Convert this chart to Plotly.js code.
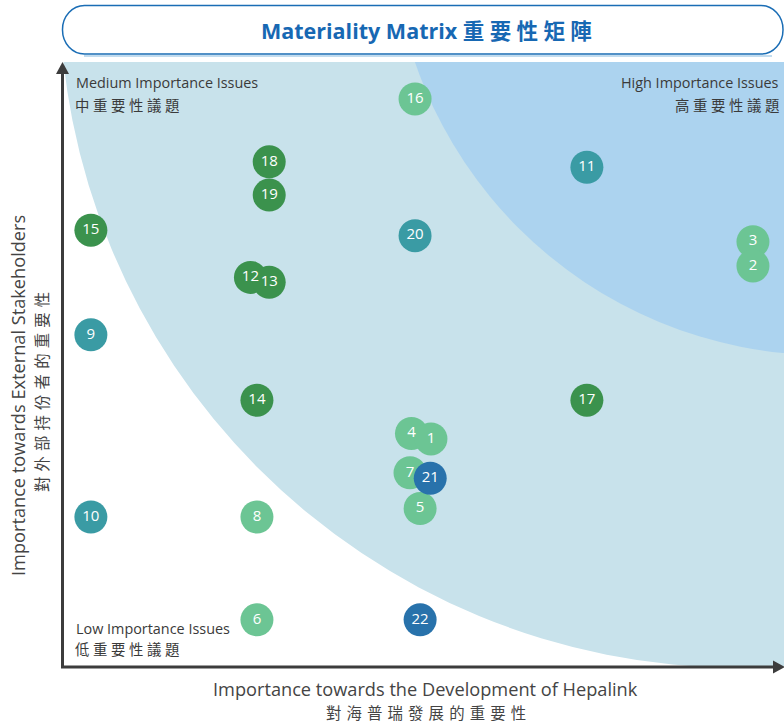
<!DOCTYPE html>
<html><head><meta charset="utf-8">
<script src="https://cdn.plot.ly/plotly-3.0.1.min.js"></script>
<style>html,body{margin:0;padding:0;background:#fff}#chart{width:784px;height:726px}</style>
</head><body><div id="chart"></div>
<script>
// ---- data (scores 0-100) ----
const issueIds = [16, 3, 2, 4, 1, 7, 8, 5, 6, 11, 20, 9, 10, 18, 19, 15, 12, 13, 14, 17, 21, 22];
const devImportance = [48.9, 95.7, 95.7, 48.4, 51.1, 48.2, 27.0, 49.6, 27.0, 72.7, 48.9, 4.0, 4.0, 28.7, 28.7, 4.0, 26.1, 28.7, 27.0, 72.7, 51.0, 49.6];
const stakeholderImportance = [93.9, 70.3, 66.3, 38.6, 37.7, 32.1, 24.8, 26.2, 7.8, 82.6, 71.3, 54.9, 24.8, 83.5, 78.0, 72.2, 64.4, 63.6, 44.1, 44.1, 31.2, 7.8];
const issueGroup = ['C', 'C', 'C', 'C', 'C', 'C', 'C', 'C', 'C', 'B', 'B', 'B', 'B', 'A', 'A', 'A', 'A', 'A', 'A', 'A', 'D', 'D'];
const groupOrder = ['C', 'B', 'A', 'D'];
const groupColors = {A: '#3b924d', B: '#3a9ba4', C: '#6cc594', D: '#2872ab'};

// ---- geometry helpers (plot area in px) ----
const L = 62, T = 62, W = 722, H = 605;
const xd = px => (px - L) / W * 100, yd = py => (T + H - py) / H * 100;
const xp = px => (px - L) / W, yp = py => (T + H - py) / H;

const FONT = 'Open Sans, Noto Sans CJK TC, sans-serif';
const CJK = 'Noto Sans CJK TC, Open Sans, sans-serif';
const sp4 = '\u2005', sp3 = '\u2004';
const spaced = (s, sp) => s.split('').join(sp);

const traces = groupOrder.map(g => {
  const idx = issueIds.map((_, i) => i).filter(i => issueGroup[i] === g);
  return {
    type: 'scatter', mode: 'markers+text',
    x: idx.map(i => devImportance[i]),
    y: idx.map(i => stakeholderImportance[i]),
    text: idx.map(i => String(issueIds[i])),
    textposition: 'middle center',
    textfont: {family: FONT, size: 15, color: '#ffffff'},
    marker: {size: 33, color: groupColors[g], line: {width: 0}},
    hoverinfo: 'skip', showlegend: false, cliponaxis: false
  };
});

function circleShape(cx, cy, r, color) {
  return {type: 'circle', xref: 'x', yref: 'y', layer: 'below',
    x0: xd(cx - r), x1: xd(cx + r), y0: yd(cy + r), y1: yd(cy - r),
    fillcolor: color, line: {width: 0}};
}
function roundBox(x0, y0, x1, y1, rx, ry) {
  const k = 0.552;
  const P = (x, y) => xp(x) + ',' + yp(y);
  return 'M' + P(x0 + rx, y0) + ' L' + P(x1 - rx, y0) +
    ' C' + P(x1 - rx + k * rx, y0) + ' ' + P(x1, y0 + ry - k * ry) + ' ' + P(x1, y0 + ry) +
    ' L' + P(x1, y1 - ry) +
    ' C' + P(x1, y1 - ry + k * ry) + ' ' + P(x1 - rx + k * rx, y1) + ' ' + P(x1 - rx, y1) +
    ' L' + P(x0 + rx, y1) +
    ' C' + P(x0 + rx - k * rx, y1) + ' ' + P(x0, y1 - ry + k * ry) + ' ' + P(x0, y1 - ry) +
    ' L' + P(x0, y0 + ry) +
    ' C' + P(x0, y0 + ry - k * ry) + ' ' + P(x0 + rx - k * rx, y0) + ' ' + P(x0 + rx, y0) + ' Z';
}
const axisColor = '#3c3c3c';
const shapes = [
  circleShape(739.3, -12.2, 679.9, '#c8e2eb'),
  circleShape(825, -78.5, 433.5, '#acd3ef'),
  {type: 'line', xref: 'paper', yref: 'paper', x0: xp(84), x1: xp(772), y0: yp(56), y1: yp(56), line: {color: '#c2dcef', width: 2}},
  {type: 'path', xref: 'paper', yref: 'paper', path: roundBox(62.5, 5.5, 783, 54, 22, 24), fillcolor: '#ffffff', line: {color: '#1a6db5', width: 1.5}},
  {type: 'line', xref: 'paper', yref: 'paper', x0: xp(62.5), x1: xp(62.5), y0: yp(667), y1: yp(72), line: {color: axisColor, width: 3}},
  {type: 'line', xref: 'paper', yref: 'paper', x0: xp(61), x1: xp(775), y0: yp(667), y1: yp(667), line: {color: axisColor, width: 3}},
  {type: 'path', xref: 'paper', yref: 'paper', path: 'M' + xp(56) + ',' + yp(74) + ' L' + xp(69) + ',' + yp(74) + ' L' + xp(62.5) + ',' + yp(62) + ' Z', fillcolor: axisColor, line: {width: 0}},
  {type: 'path', xref: 'paper', yref: 'paper', path: 'M' + xp(773) + ',' + yp(660.5) + ' L' + xp(773) + ',' + yp(673.5) + ' L' + xp(785) + ',' + yp(667) + ' Z', fillcolor: axisColor, line: {width: 0}}
];

const labelColor = '#3a3a3a';
function label(text, x, y, anchor, size, family, color, extra) {
  return Object.assign({xref: 'paper', yref: 'paper', x: xp(x), y: yp(y), xanchor: anchor, yanchor: 'middle',
    text: text, showarrow: false, borderpad: 0, font: {family: family, size: size, color: color}}, extra || {});
}
const annotations = [
  label('<b>Materiality Matrix ' + spaced('重要性矩陣', sp4) + '</b>', 427, 30, 'center', 21.5, FONT, '#1768b3'),
  label('Medium Importance Issues', 75, 83, 'left', 14.4, FONT, labelColor),
  label(spaced('中重要性議題', sp4), 74, 104, 'left', 14.4, CJK, labelColor),
  label('High Importance Issues', 780, 83, 'right', 14.4, FONT, labelColor),
  label(spaced('高重要性議題', sp4), 780, 104, 'right', 14.4, CJK, labelColor),
  label('Low Importance Issues', 75, 628, 'left', 14.4, FONT, labelColor),
  label(spaced('低重要性議題', sp4), 74, 648, 'left', 14.4, CJK, labelColor),
  label('Importance towards the Development of Hepalink', 426, 689, 'center', 18.2, FONT, '#444444'),
  label(spaced('對海普瑞發展的重要性', sp3), 426, 712, 'center', 15.4, CJK, '#444444'),
  label('Importance towards External Stakeholders', 18, 396, 'center', 18.2, FONT, '#444444', {textangle: -90}),
  label(spaced('對外部持份者的重要性', sp3), 41, 392, 'center', 15.4, CJK, '#444444', {textangle: -90})
];

const layout = {
  width: 784, height: 726,
  margin: {l: L, r: 784 - L - W, t: T, b: 726 - T - H, pad: 0},
  paper_bgcolor: '#ffffff', plot_bgcolor: '#ffffff',
  xaxis: {range: [0, 100], visible: false, fixedrange: true},
  yaxis: {range: [0, 100], visible: false, fixedrange: true},
  shapes: shapes, annotations: annotations, showlegend: false, hovermode: false
};
Plotly.newPlot('chart', traces, layout, {staticPlot: true, displayModeBar: false});
</script></body></html>
